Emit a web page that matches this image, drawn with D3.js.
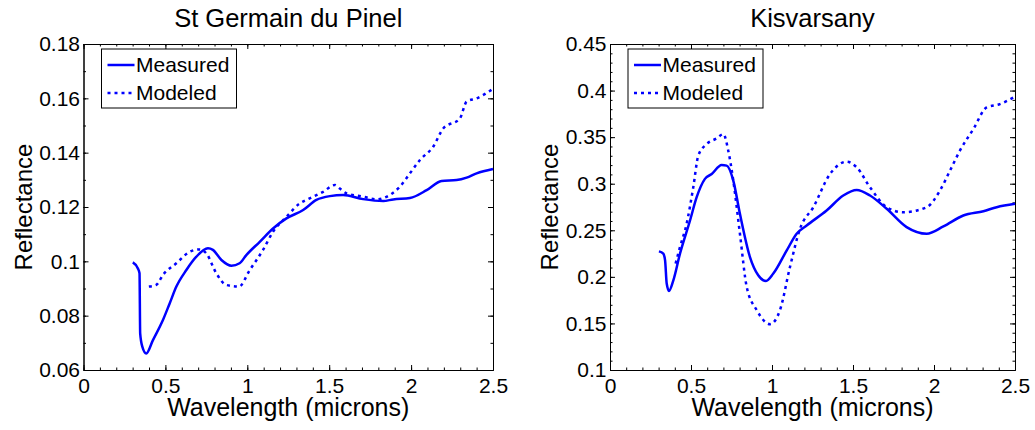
<!DOCTYPE html>
<html>
<head>
<meta charset="utf-8">
<script src="https://cdn.jsdelivr.net/npm/d3@7"></script>
<style>
  html, body { margin: 0; padding: 0; background: #fff; }
  svg { display: block; font-family: "Liberation Sans", Arial, Helvetica, sans-serif; }
</style>
</head>
<body>
<svg id="chart" width="1035" height="430"></svg>
<script>
// ---------- Data ----------
const titles = ["St Germain du Pinel", "Kisvarsany"];
const legendLabels = ["Measured", "Modeled"];
const xLabel = "Wavelength (microns)";
const yLabel = "Reflectance";

const xTicks = [0, 0.5, 1, 1.5, 2, 2.5];
const leftYTicks = [0.06, 0.08, 0.10, 0.12, 0.14, 0.16, 0.18];
const rightYTicks = [0.10, 0.15, 0.20, 0.25, 0.30, 0.35, 0.40, 0.45];

// St Germain du Pinel — measured
const sgMeasuredWl = [0.301, 0.332, 0.342, 0.346, 0.359, 0.383, 0.424, 0.485, 0.526, 0.567, 0.628, 0.689, 0.760, 0.790, 0.842, 0.903, 0.953, 0.994, 1.076, 1.157, 1.239, 1.341, 1.422, 1.504, 1.585, 1.707, 1.830, 1.891, 1.993, 2.095, 2.186, 2.278, 2.339, 2.400, 2.500];
const sgMeasuredR  = [0.0996, 0.0974, 0.0956, 0.0735, 0.0686, 0.0661, 0.0710, 0.0784, 0.0845, 0.0907, 0.0968, 0.1017, 0.1048, 0.1042, 0.1005, 0.0984, 0.0993, 0.1023, 0.1072, 0.1121, 0.1158, 0.1189, 0.1226, 0.1240, 0.1244, 0.1229, 0.1222, 0.1228, 0.1233, 0.1262, 0.1296, 0.1299, 0.1308, 0.1324, 0.1340];
// St Germain du Pinel — modeled
const sgModeledWl = [0.399, 0.444, 0.485, 0.567, 0.648, 0.709, 0.750, 0.811, 0.872, 0.949, 1.015, 1.096, 1.157, 1.239, 1.320, 1.381, 1.463, 1.534, 1.565, 1.606, 1.707, 1.789, 1.870, 1.932, 1.993, 2.054, 2.135, 2.196, 2.298, 2.339, 2.400, 2.500];
const sgModeledR  = [0.0907, 0.0913, 0.0950, 0.0993, 0.1035, 0.1044, 0.1029, 0.0956, 0.0913, 0.0907, 0.0968, 0.1042, 0.1109, 0.1164, 0.1213, 0.1232, 0.1256, 0.1281, 0.1268, 0.1250, 0.1238, 0.1228, 0.1244, 0.1275, 0.1324, 0.1373, 0.1422, 0.1489, 0.1526, 0.1588, 0.1600, 0.1635];

// Kisvarsany — measured
const kvMeasuredWl = [0.302, 0.329, 0.340, 0.350, 0.364, 0.391, 0.432, 0.494, 0.535, 0.586, 0.628, 0.689, 0.720, 0.761, 0.802, 0.864, 0.915, 0.963, 1.008, 1.091, 1.152, 1.214, 1.337, 1.440, 1.523, 1.605, 1.708, 1.831, 1.955, 2.058, 2.181, 2.305, 2.387, 2.500];
const kvMeasuredR  = [0.2274, 0.2249, 0.2177, 0.1928, 0.1849, 0.1963, 0.2249, 0.2605, 0.2855, 0.3052, 0.3104, 0.3201, 0.3194, 0.3034, 0.2677, 0.2213, 0.2017, 0.1956, 0.2035, 0.2284, 0.2463, 0.2552, 0.2712, 0.2873, 0.2933, 0.2873, 0.2731, 0.2534, 0.2463, 0.2541, 0.2659, 0.2705, 0.2748, 0.2784];
// Kisvarsany — modeled
const kvModeledWl = [0.405, 0.432, 0.473, 0.514, 0.545, 0.597, 0.659, 0.700, 0.730, 0.761, 0.802, 0.844, 0.906, 0.988, 1.049, 1.111, 1.173, 1.255, 1.358, 1.461, 1.523, 1.605, 1.708, 1.811, 1.955, 2.037, 2.099, 2.160, 2.243, 2.325, 2.407, 2.500];
const kvModeledR  = [0.2142, 0.2320, 0.2570, 0.2962, 0.3301, 0.3426, 0.3487, 0.3533, 0.3355, 0.3034, 0.2463, 0.1891, 0.1642, 0.1492, 0.1642, 0.2106, 0.2517, 0.2748, 0.3104, 0.3237, 0.3176, 0.2962, 0.2748, 0.2694, 0.2748, 0.2927, 0.3141, 0.3355, 0.3587, 0.3819, 0.3855, 0.3935];

// ---------- Drawing ----------
const svg = d3.select("#chart");
const BLUE = "#0000ff";

const panels = [
  { title: titles[0], left: 83.5, right: 493, top: 44, bottom: 370,
    yDomain: [0.06, 0.18], yTicks: leftYTicks, yMinorStep: 0.01,
    measured: d3.zip(sgMeasuredWl, sgMeasuredR), modeled: d3.zip(sgModeledWl, sgModeledR) },
  { title: titles[1], left: 610, right: 1015, top: 44, bottom: 370,
    yDomain: [0.10, 0.45], yTicks: rightYTicks, yMinorStep: 0.01,
    measured: d3.zip(kvMeasuredWl, kvMeasuredR), modeled: d3.zip(kvModeledWl, kvModeledR) }
];

const fmt = v => String(+v.toFixed(2));

panels.forEach(p => {
  const x = d3.scaleLinear().domain([0, 2.5]).range([p.left, p.right]);
  const y = d3.scaleLinear().domain(p.yDomain).range([p.bottom, p.top]);
  const g = svg.append("g");

  const xMinor = d3.range(0, 2.5001, 0.1).map(v => +v.toFixed(2));
  const yMinor = d3.range(p.yDomain[0], p.yDomain[1] + 1e-9, p.yMinorStep).map(v => +v.toFixed(3));

  const styleAxis = sel => {
    sel.selectAll(".domain").attr("stroke", "#000").attr("stroke-width", 1);
    sel.selectAll(".tick line").attr("stroke", "#000").attr("stroke-width", 1);
    sel.selectAll(".tick text").attr("fill", "#000").style("font-size", "21px")
      .style("font-family", "'Liberation Sans', Arial, Helvetica, sans-serif");
  };

  // minor ticks (all four sides)
  g.append("g").attr("transform", `translate(0,${p.bottom})`)
    .call(d3.axisBottom(x).tickValues(xMinor).tickSize(-2.5).tickSizeOuter(0).tickFormat(""))
    .call(styleAxis);
  g.append("g").attr("transform", `translate(0,${p.top})`)
    .call(d3.axisTop(x).tickValues(xMinor).tickSize(-2.5).tickSizeOuter(0).tickFormat(""))
    .call(styleAxis);
  g.append("g").attr("transform", `translate(${p.left},0)`)
    .call(d3.axisLeft(y).tickValues(yMinor).tickSize(-2.5).tickSizeOuter(0).tickFormat(""))
    .call(styleAxis);
  g.append("g").attr("transform", `translate(${p.right},0)`)
    .call(d3.axisRight(y).tickValues(yMinor).tickSize(-2.5).tickSizeOuter(0).tickFormat(""))
    .call(styleAxis);

  // major ticks
  g.append("g").attr("transform", `translate(0,${p.bottom})`)
    .call(d3.axisBottom(x).tickValues(xTicks).tickSize(-5).tickSizeOuter(0).tickPadding(8).tickFormat(fmt))
    .call(styleAxis);
  g.append("g").attr("transform", `translate(0,${p.top})`)
    .call(d3.axisTop(x).tickValues(xTicks).tickSize(-5).tickSizeOuter(0).tickFormat(""))
    .call(styleAxis);
  g.append("g").attr("transform", `translate(${p.left},0)`)
    .call(d3.axisLeft(y).tickValues(p.yTicks).tickSize(-5).tickSizeOuter(0).tickPadding(3.5).tickFormat(fmt))
    .call(styleAxis);
  g.append("g").attr("transform", `translate(${p.right},0)`)
    .call(d3.axisRight(y).tickValues(p.yTicks).tickSize(-5).tickSizeOuter(0).tickFormat(""))
    .call(styleAxis);

  // clip
  const clipId = "clip" + Math.round(p.left);
  svg.append("clipPath").attr("id", clipId).append("rect")
    .attr("x", p.left).attr("y", p.top - 2).attr("width", p.right - p.left + 1).attr("height", p.bottom - p.top + 2);

  const line = d3.line().x(d => x(d[0])).y(d => y(d[1])).curve(d3.curveMonotoneX);

  g.append("path").datum(p.modeled)
    .attr("clip-path", `url(#${clipId})`)
    .attr("fill", "none").attr("stroke", BLUE).attr("stroke-width", 2.5)
    .attr("stroke-dasharray", "3,4").attr("d", line);
  g.append("path").datum(p.measured)
    .attr("clip-path", `url(#${clipId})`)
    .attr("fill", "none").attr("stroke", BLUE).attr("stroke-width", 2.5)
    .attr("stroke-linejoin", "round").attr("d", line);

  // title
  g.append("text").attr("x", (p.left + p.right) / 2).attr("y", 27)
    .attr("text-anchor", "middle").style("font-size", "25.5px").attr("fill", "#000").text(p.title);
  // x label
  g.append("text").attr("x", (p.left + p.right) / 2).attr("y", 415.5)
    .attr("text-anchor", "middle").style("font-size", "25px").attr("fill", "#000").text(xLabel);
  // y label
  g.append("text").attr("transform", `translate(${p.left - 52},${(p.top + p.bottom) / 2}) rotate(-90)`)
    .attr("text-anchor", "middle").style("font-size", "24px").attr("fill", "#000").text(yLabel);

  // legend
  const lx = p.left + 18, ly = p.top + 5;
  const lg = g.append("g").attr("transform", `translate(${lx},${ly})`);
  lg.append("rect").attr("x", 0).attr("y", 0).attr("width", 135).attr("height", 59)
    .attr("fill", "#fff").attr("stroke", "#000").attr("stroke-width", 1);
  const rows = [
    { label: legendLabels[0], dash: null, ly: 16, ty: 22.5 },
    { label: legendLabels[1], dash: "3,4", ly: 44, ty: 50.5 }
  ];
  rows.forEach(r => {
    lg.append("line").attr("x1", 6).attr("x2", 33).attr("y1", r.ly).attr("y2", r.ly)
      .attr("stroke", BLUE).attr("stroke-width", 2.5).attr("stroke-dasharray", r.dash);
    lg.append("text").attr("x", 34.5).attr("y", r.ty).style("font-size", "21px")
      .attr("fill", "#000").text(r.label);
  });
});
</script>
</body>
</html>
